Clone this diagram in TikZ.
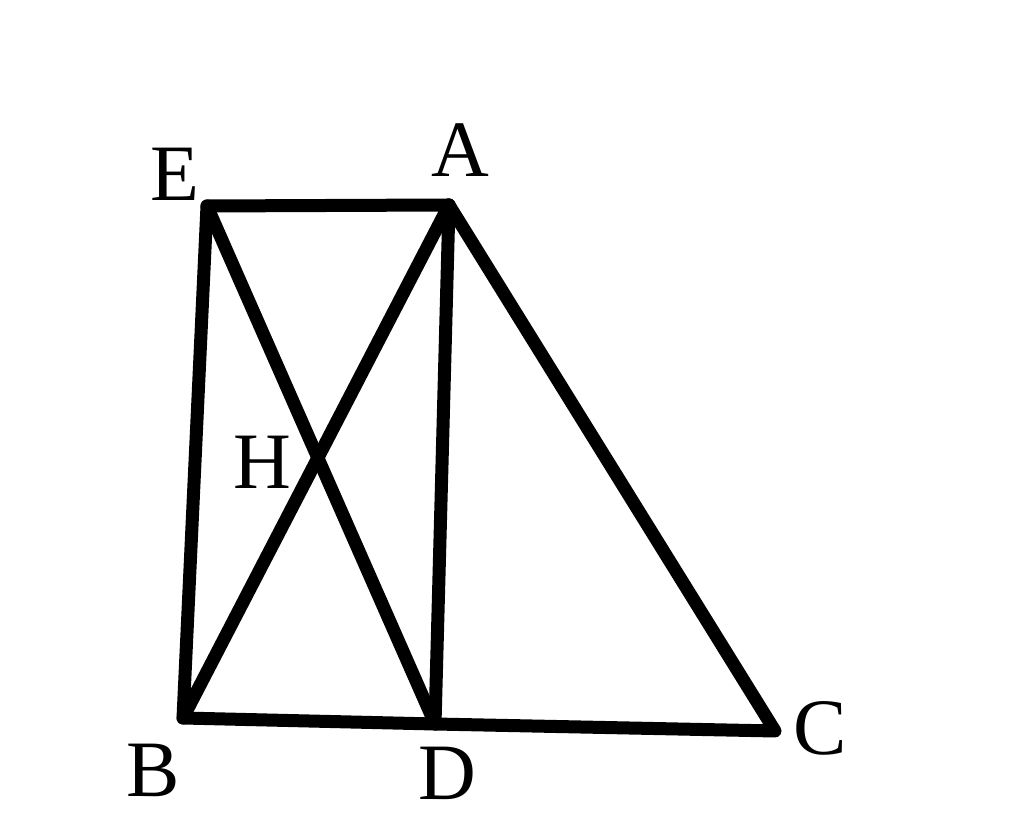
\documentclass[tikz,border=0pt]{standalone}
\usepackage{fontspec}
\setmainfont{Liberation Serif}
\usepackage{tikz}

\begin{document}
\begin{tikzpicture}[x=1pt,y=1pt]
\tikzset{edge/.style = {-,line width=13pt,line join=round,line cap=round}}
\tikzset{ptlabel/.style = {inner sep=0pt,font=\fontsize{80}{80}\selectfont}}
\useasboundingbox (0,0) rectangle (1024,832);
\coordinate (E) at (207,626);
\coordinate (A) at (449,627);
\coordinate (B) at (183,114);
\coordinate (D) at (435,108);
\coordinate (C) at (775,101);

\node[ptlabel] (e) at (175,658) {E};
\node[ptlabel] (a) at (460,682) {A};
\node[ptlabel] (h) at (262,370) {H};
\node[ptlabel] (b) at (153,62) {B};
\node[ptlabel] (d) at (447,59) {D};
\node[ptlabel] (c) at (820,104) {C};

\draw[edge] (B) -- (E) -- (A) -- (C) -- (D) -- cycle;
\draw[edge] (A) to   (D);
\draw[edge] (E) to   (D);
\draw[edge] (A) to   (B);
\end{tikzpicture}
\end{document}
